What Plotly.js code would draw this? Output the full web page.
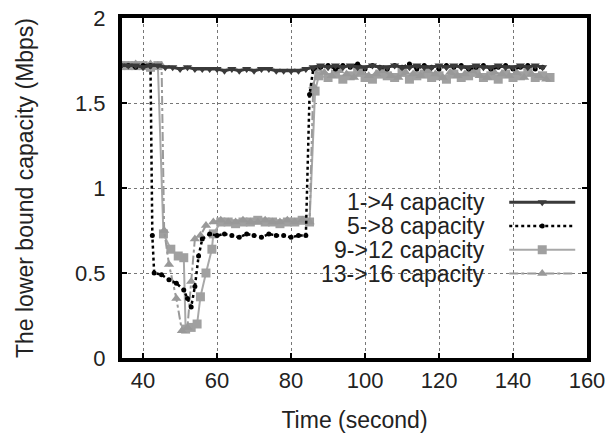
<!DOCTYPE html>
<html>
<head>
<meta charset="utf-8">
<script src="https://cdn.plot.ly/plotly-3.0.1.min.js"></script>
<style>html,body{margin:0;padding:0;background:#fff;}#chart{width:613px;height:436px;}</style>
</head>
<body>
<div id="chart"></div>
<script>
// Series names
var seriesNames = ["1->4 capacity", "5->8 capacity", "9->12 capacity", "13->16 capacity"];

// 1->4 capacity
var t14 = [34,36,38,40,42,44,46,48,50,52,54,56,58,60,62,64,66,68,70,72,74,76,78,80,82,84,86,88,90,92,94,96,98,100,102,104,106,108,110,112,114,116,118,120,122,124,126,128,130,132,134,136,138,140,142,144,146,148];
var y14 = [1.72,1.72,1.72,1.71,1.72,1.72,1.71,1.71,1.70,1.71,1.70,1.70,1.70,1.70,1.69,1.70,1.69,1.70,1.69,1.70,1.70,1.69,1.69,1.69,1.69,1.70,1.71,1.72,1.71,1.72,1.71,1.72,1.71,1.71,1.72,1.71,1.71,1.72,1.71,1.71,1.72,1.71,1.71,1.72,1.71,1.72,1.71,1.71,1.72,1.71,1.71,1.72,1.71,1.71,1.72,1.71,1.72,1.71];

// 5->8 capacity
var t58 = [34,36,38,40,42,42.5,43,45,47,49,51,52,53,54,55,56,58,60,62,64,66,68,70,72,74,76,78,80,82,84,85,86,88,90,92,94,96,98,100,102,104,106,108,110,112,114,116,118,120,122,124,126,128,130,132,134,136,138,140,142,144,146,148];
var y58 = [1.72,1.72,1.71,1.72,1.72,0.72,0.50,0.49,0.46,0.44,0.40,0.35,0.30,0.42,0.60,0.70,0.73,0.72,0.73,0.72,0.71,0.73,0.72,0.71,0.73,0.72,0.72,0.71,0.72,0.72,1.55,1.70,1.71,1.72,1.70,1.72,1.71,1.73,1.70,1.72,1.71,1.70,1.72,1.71,1.73,1.70,1.72,1.71,1.70,1.72,1.71,1.72,1.70,1.71,1.72,1.70,1.71,1.72,1.70,1.71,1.72,1.70,1.71];

// 9->12 capacity
var t912 = [34,36,38,40,42,44,45.5,47.5,49.5,51,51.5,53,54.6,55.5,57,58.6,59,61,63,65,67,69,71,73,75,77,79,81,83,85,86.5,87.5,90,92,94,96,98,100,102,104,106,108,110,112,114,116,118,120,122,124,126,128,130,132,134,136,138,140,142,144,146,148,150];
var y912 = [1.72,1.72,1.72,1.72,1.71,1.72,0.73,0.64,0.60,0.59,0.17,0.18,0.20,0.36,0.50,0.64,0.73,0.80,0.80,0.79,0.80,0.80,0.81,0.80,0.80,0.79,0.80,0.80,0.81,0.80,1.57,1.66,1.65,1.67,1.64,1.66,1.68,1.65,1.64,1.67,1.66,1.65,1.68,1.64,1.66,1.67,1.65,1.66,1.64,1.67,1.65,1.66,1.68,1.65,1.66,1.64,1.67,1.65,1.66,1.68,1.65,1.66,1.65];

// 13->16 capacity
var t1316 = [34,36,38,40,42,44,45,45.7,47,49,50.5,52,53,54,55.5,57,59,61,63,65,67,69,71,73,75,77,79,81,83,85,86,87,89,91,93,95,97,99,101,103,105,107,109,111,113,115,117,119,121,123,125,127,129,131,133,135,137,139,141,143,145,147,149];
var y1316 = [1.73,1.72,1.73,1.72,1.73,1.72,1.72,0.75,0.55,0.35,0.16,0.18,0.45,0.70,0.72,0.78,0.80,0.81,0.80,0.80,0.81,0.80,0.80,0.81,0.80,0.80,0.81,0.80,0.81,0.80,1.60,1.70,1.68,1.66,1.69,1.67,1.65,1.68,1.66,1.67,1.69,1.66,1.65,1.68,1.67,1.66,1.69,1.67,1.65,1.68,1.66,1.67,1.69,1.66,1.65,1.68,1.67,1.66,1.68,1.65,1.67,1.66,1.64];

// Axis ticks
var xTicks = [40,60,80,100,120,140,160];
var yTicks = [0,0.5,1,1.5,2];
var yTickText = ["0","0.5","1","1.5","2"];

var FONT = "Liberation Sans, Arial, Helvetica, sans-serif";

var styles = [
  {line:{color:"#3a3a3a", width:3, dash:"solid"}, marker:{symbol:"triangle-down", size:8, color:"#3a3a3a"}},
  {line:{color:"#000000", width:2.5, dash:"dot"}, marker:{symbol:"circle", size:5, color:"#000000"}},
  {line:{color:"#a8a8a8", width:2, dash:"solid"}, marker:{symbol:"square", size:9, color:"#a0a0a0"}},
  {line:{color:"#9a9a9a", width:2, dash:"dashdot"}, marker:{symbol:"triangle-up", size:9, color:"#999999"}}
];
var xs = [t14, t58, t912, t1316];
var ys = [y14, y58, y912, y1316];

var data = [];
// Draw order: lighter first so dark lines sit on top
[2,3,1,0].forEach(function(i){
  data.push({
    type:"scatter", mode:"lines+markers", name:seriesNames[i],
    x:xs[i], y:ys[i], line:styles[i].line, marker:styles[i].marker,
    showlegend:false, hoverinfo:"skip"
  });
});
// legend samples (symbols only; text drawn right-aligned to their left like the original)
[0,1,2,3].forEach(function(i){
  data.push({
    type:"scatter", mode:"lines+markers", name:" ",
    x:[null], y:[null], line:styles[i].line, marker:styles[i].marker,
    showlegend:true, legendgroup:"g"+i
  });
});

var annRowsY = [0.4588, 0.3882, 0.3176, 0.2471];
var annotations = seriesNames.map(function(n, i){
  return {xref:"paper", yref:"paper", x:0.785, y:annRowsY[i], xanchor:"right", yanchor:"middle",
          text:n, showarrow:false, font:{family:FONT, size:23, color:"#222"}};
});

var layout = {
  width:613, height:436,
  margin:{l:122, r:26, t:18, b:78},
  paper_bgcolor:"#fff", plot_bgcolor:"#fff",
  font:{family:FONT, color:"#222"},
  showlegend:true,
  legend:{x:0.822, xanchor:"left", y:0.508, yanchor:"top", bgcolor:"rgba(0,0,0,0)",
          font:{family:FONT, size:16}, itemwidth:66, tracegroupgap:0, traceorder:"normal"},
  xaxis:{
    range:[34.3,160], tickvals:xTicks, ticktext:xTicks.map(String),
    showgrid:true, gridcolor:"#777", griddash:"dot", gridwidth:1,
    zeroline:false, showline:true, linecolor:"#000", linewidth:4, mirror:"ticks",
    ticks:"inside", ticklen:5, tickwidth:1.5, tickcolor:"#000",
    tickfont:{family:FONT, size:22, color:"#222"},
    title:{text:"Time (second)", font:{family:FONT, size:23, color:"#222"}, standoff:20}
  },
  yaxis:{
    range:[0,2], tickvals:yTicks, ticktext:yTickText,
    showgrid:true, gridcolor:"#777", griddash:"dot", gridwidth:1,
    zeroline:false, showline:true, linecolor:"#000", linewidth:4, mirror:"ticks",
    ticks:"inside", ticklen:5, tickwidth:1.5, tickcolor:"#000",
    ticklabelstandoff:8,
    tickfont:{family:FONT, size:22, color:"#222"},
    title:{text:"The lower bound capacity (Mbps)", font:{family:FONT, size:23, color:"#222"}, standoff:36}
  },
  shapes:[{type:"rect", xref:"paper", yref:"paper", x0:0.325, x1:0.996, y0:0.209, y1:0.489,
           fillcolor:"#fff", line:{width:0}, layer:"between"}],
  annotations:annotations
};

Plotly.newPlot("chart", data, layout, {staticPlot:true, displayModeBar:false});
</script>
</body>
</html>
